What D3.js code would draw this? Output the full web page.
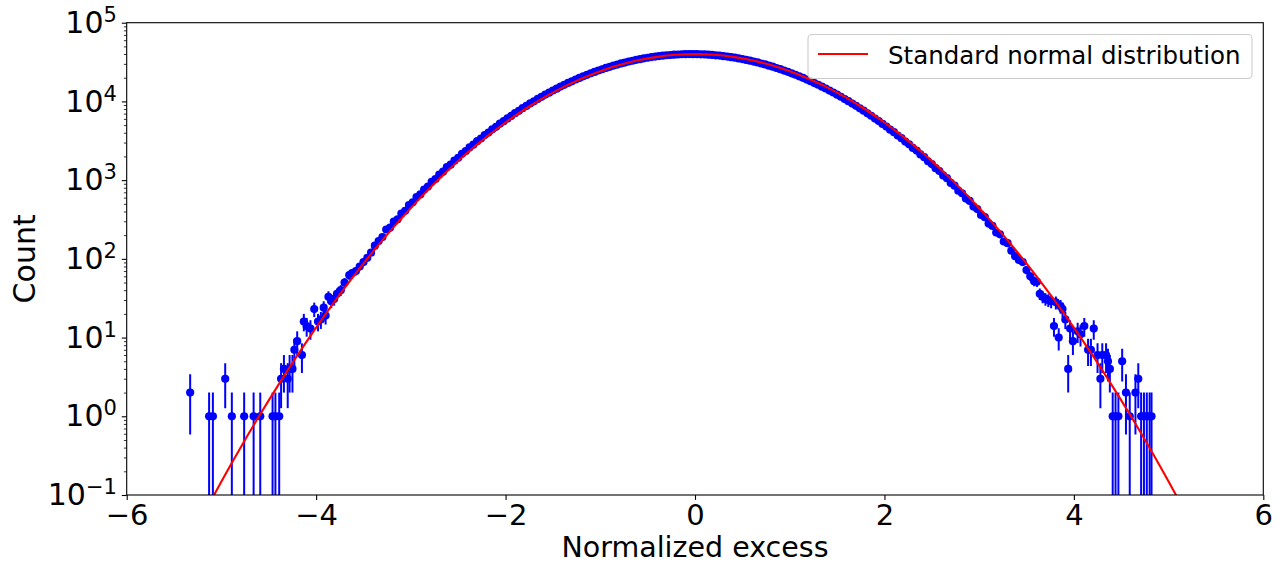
<!DOCTYPE html>
<html>
<head>
<meta charset="utf-8">
<script src="https://cdn.jsdelivr.net/npm/d3@7"></script>
<style>
  html, body { margin: 0; padding: 0; background: #fff; }
  svg { display: block; }
  text { font-family: "DejaVu Sans", sans-serif; }
</style>
</head>
<body>
<svg id="chart" width="1283" height="563"></svg>
<script>
// ---------------- DATA ----------------
// Histogram core: bins of width 0.04, first bin centre at -3.54
const binWidth = 0.04;
const coreFirstCenter = -3.54;
const coreCounts = [
  80, 91, 103, 120, 147, 168, 189, 236, 249, 297,
  318, 377, 408, 483, 524, 611, 659, 760, 829, 951,
  1030, 1176, 1281, 1460, 1572, 1769, 1921, 2158, 2337, 2601,
  2818, 3124, 3380, 3731, 4022, 4420, 4761, 5209, 5603, 6089,
  6547, 7091, 7598, 8201, 8763, 9424, 10039, 10761, 11433, 12211,
  12930, 13765, 14531, 15418, 16229, 17164, 18010, 18981, 19858, 20862,
  21756, 22779, 23681, 24714, 25612, 26643, 27529, 28541, 29392, 30377,
  31188, 32124, 32879, 33756, 34441, 35247, 35850, 36568, 37071, 37697,
  38095, 38612, 38897, 39298, 39461, 39740, 39779, 39931, 39843,
  39867, 39652, 39548, 39210, 38984, 38526, 38181, 37612, 37158, 36485,
  35930, 35166, 34523, 33679, 32957, 32048, 31263, 30302, 29466, 28468,
  27597, 26575, 25680, 24650, 23744, 22717, 21814, 20803, 19914, 18927,
  18064, 17111, 16281, 15371, 14581, 13719, 12975, 12166, 11471, 10720,
  10078, 9386, 8799, 8165, 7631, 7058, 6578, 6062, 5633, 5173,
  4797, 4381, 4063, 3690, 3412, 3087, 2851, 2566, 2371, 2120,
  1957, 1738, 1601, 1418, 1306, 1147, 1060, 921, 851, 735,
  681, 583, 544, 462, 429, 361, 338, 281, 262, 216,
  205, 166, 158, 127, 108, 97, 91, 72, 60
];

// Sparse tails (bin centre, count)
const leftTailX = [-5.33, -5.13, -5.09, -4.96, -4.89, -4.76, -4.66, -4.59, -4.46, -4.43,
  -4.39, -4.37, -4.34, -4.30, -4.28, -4.25, -4.23, -4.20, -4.15, -4.13,
  -4.10, -4.06, -4.02, -3.98, -3.95, -3.92, -3.90, -3.87, -3.84, -3.81,
  -3.78, -3.74, -3.70, -3.65, -3.62, -3.58];
const leftTailCounts = [2, 1, 1, 3, 1, 1, 1, 1, 1, 1,
  1, 3, 4, 3, 4, 4, 7, 9, 6, 16,
  14, 13, 23, 16, 17, 24, 19, 33, 29, 31,
  36, 40, 50, 62, 66, 70];

const rightTailX = [3.58, 3.61, 3.64, 3.67, 3.70, 3.73, 3.76, 3.79, 3.81, 3.84,
  3.86, 3.88, 3.91, 3.94, 3.96, 3.99, 4.04, 4.07, 4.11, 4.15,
  4.18, 4.21, 4.25, 4.28, 4.30, 4.34, 4.36, 4.38, 4.41, 4.44,
  4.47, 4.51, 4.55, 4.59, 4.65, 4.68, 4.71, 4.74, 4.77, 4.80, 4.82];
const rightTailCounts = [52, 51, 36, 33, 31, 30, 29, 14, 28, 10,
  25, 23, 17, 4, 13, 9, 12, 11, 14, 7,
  7, 13, 6, 3, 6, 6, 5, 4, 1, 1,
  1, 5, 2, 1, 2, 3, 1, 1, 1, 1, 1];

// Standard normal reference curve (scaled to the histogram)
const curveX = [-5.2, -5.0, -4.8, -4.6, -4.4, -4.2, -4.0, -3.8, -3.6, -3.4, -3.2, -3.0, -2.8, -2.6,
  -2.4, -2.2, -2.0, -1.8, -1.6, -1.4, -1.2, -1.0, -0.8, -0.6, -0.4, -0.2, 0,
  0.2, 0.4, 0.6, 0.8, 1.0, 1.2, 1.4, 1.6, 1.8, 2.0, 2.2, 2.4, 2.6, 2.8, 3.0,
  3.2, 3.4, 3.6, 3.8, 4.0, 4.2, 4.4, 4.6, 4.8, 5.0, 5.2];
const curveY = [0.0536, 0.1487, 0.396, 1.014, 2.49, 5.89, 13.38, 29.2, 61.2, 123.2, 238.4, 443.2, 791.5, 1358,
  2239, 3547, 5399, 7895, 11092, 14973, 19419, 24197, 28969, 33322, 36827, 39104, 39894,
  39104, 36827, 33322, 28969, 24197, 19419, 14973, 11092, 7895, 5399, 3547, 2239, 1358, 791.5, 443.2,
  238.4, 123.2, 61.2, 29.2, 13.38, 5.89, 2.49, 1.014, 0.396, 0.1487, 0.0536];

const xTicks = [-6, -4, -2, 0, 2, 4, 6];
const yExponents = [-1, 0, 1, 2, 3, 4, 5];
const legendLabel = "Standard normal distribution";
const xLabel = "Normalized excess";
const yLabel = "Count";

// ---------------- LAYOUT ----------------
const L = 126.7, R = 1263.3, T = 22.7, B = 495;
const svg = d3.select("#chart");

const x = d3.scaleLinear().domain([-6, 6]).range([L, R]);
const y = d3.scaleLog().domain([0.1, 1e5]).range([B, T]);

// Assemble points
const points = [];
leftTailX.forEach((v, i) => points.push({x: v, c: leftTailCounts[i]}));
coreCounts.forEach((c, i) => points.push({x: coreFirstCenter + i * binWidth, c}));
rightTailX.forEach((v, i) => points.push({x: v, c: rightTailCounts[i]}));

svg.append("defs").append("clipPath").attr("id", "plotclip")
  .append("rect").attr("x", L).attr("y", T).attr("width", R - L).attr("height", B - T);

const plot = svg.append("g").attr("clip-path", "url(#plotclip)");

const blue = "#0000ff";
// error bars
plot.append("g").selectAll("line").data(points).join("line")
  .attr("x1", d => x(d.x)).attr("x2", d => x(d.x))
  .attr("y1", d => { const lo = d.c - Math.sqrt(d.c); return lo > 0 ? y(lo) : B + 10; })
  .attr("y2", d => y(d.c + Math.sqrt(d.c)))
  .attr("stroke", blue).attr("stroke-width", 2);
// markers
plot.append("g").selectAll("circle").data(points).join("circle")
  .attr("cx", d => x(d.x)).attr("cy", d => y(d.c)).attr("r", 4.1)
  .attr("fill", blue);

// reference curve
const curveData = curveX.map((v, i) => [v, curveY[i]]);
plot.append("path").datum(curveData)
  .attr("d", d3.line().x(d => x(d[0])).y(d => y(d[1])).curve(d3.curveNatural))
  .attr("fill", "none").attr("stroke", "#ff0000").attr("stroke-width", 2.1);

// ---------------- AXES ----------------
const fontSize = 30;
const xAxis = d3.axisBottom(x).tickValues(xTicks).tickSize(4.9).tickPadding(4.3).tickSizeOuter(0)
  .tickFormat(d3.format("d"));
const gx = svg.append("g").attr("transform", `translate(0,${B})`).call(xAxis);
gx.select(".domain").remove();
gx.selectAll("line").attr("stroke", "#000").attr("stroke-width", 1.1);
gx.selectAll("text").attr("font-size", 29).attr("fill", "#000").attr("font-family", "DejaVu Sans");

const majorY = yExponents.map(e => Math.pow(10, e));
const minorY = [];
yExponents.slice(0, -1).forEach(e => { for (let k = 2; k <= 9; k++) minorY.push(k * Math.pow(10, e)); });

const gyMinor = svg.append("g").attr("transform", `translate(${L},0)`)
  .call(d3.axisLeft(y).tickValues(minorY).tickSize(2.8).tickSizeOuter(0).tickFormat(""));
gyMinor.select(".domain").remove();
gyMinor.selectAll("line").attr("stroke", "#000").attr("stroke-width", 0.8);

const gy = svg.append("g").attr("transform", `translate(${L},0)`)
  .call(d3.axisLeft(y).tickValues(majorY).tickSize(4.9).tickPadding(4.9).tickSizeOuter(0));
gy.select(".domain").remove();
gy.selectAll("line").attr("stroke", "#000").attr("stroke-width", 1.1);
gy.selectAll("text").each(function(d, i) {
  const t = d3.select(this);
  t.text("").attr("font-size", fontSize).attr("fill", "#000").attr("font-family", "DejaVu Sans");
  t.append("tspan").text("10");
  const ex = Math.round(Math.log10(d));
  t.append("tspan").attr("dy", -11).attr("font-size", 21)
    .text(ex < 0 ? "\u2212" + Math.abs(ex) : String(ex));
});

// frame
svg.append("rect").attr("x", L).attr("y", T).attr("width", R - L).attr("height", B - T)
  .attr("fill", "none").attr("stroke", "#000").attr("stroke-width", 1.1);

// labels
svg.append("text").attr("x", (L + R) / 2).attr("y", 557).attr("text-anchor", "middle")
  .attr("font-size", 28.5).text(xLabel);
svg.append("text").attr("transform", `translate(35,${(T + B) / 2}) rotate(-90)`)
  .attr("text-anchor", "middle").attr("font-size", fontSize).text(yLabel);

// legend
const lg = svg.append("g");
lg.append("rect").attr("x", 808).attr("y", 34.5).attr("width", 444).attr("height", 44).attr("rx", 4)
  .attr("fill", "#fff").attr("fill-opacity", 0.8).attr("stroke", "#cccccc").attr("stroke-width", 1.1);
lg.append("line").attr("x1", 818).attr("x2", 868).attr("y1", 54).attr("y2", 54)
  .attr("stroke", "#ff0000").attr("stroke-width", 2.1);
lg.append("text").attr("x", 888).attr("y", 63.5).attr("font-size", 24.5).attr("fill", "#000").text(legendLabel);
</script>
</body>
</html>
